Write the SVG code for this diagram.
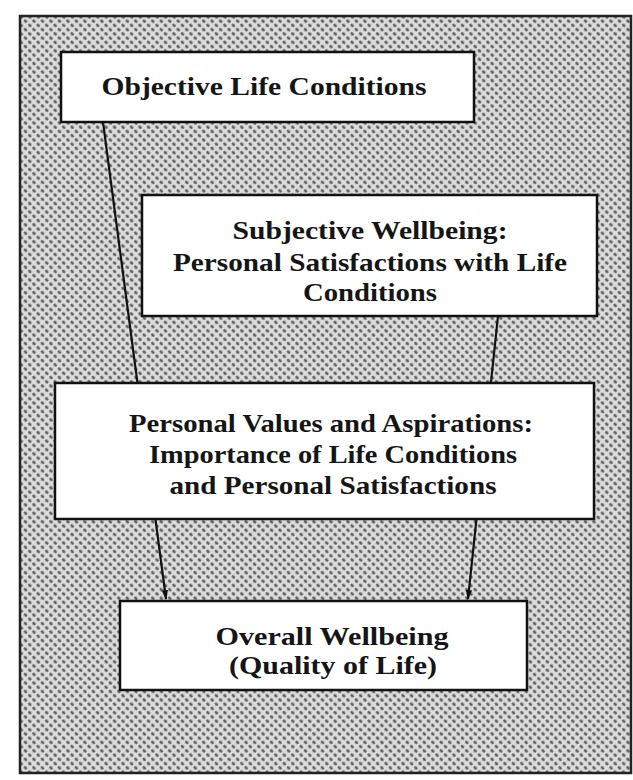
<svg xmlns="http://www.w3.org/2000/svg" width="633" height="780" viewBox="0 0 633 780">
<style>
.box{fill:#fff;stroke:#111;stroke-width:2.5}
.t{font-family:"Liberation Serif","Times New Roman",serif;font-weight:bold;font-size:25px;fill:#151515;text-anchor:middle}
.c{stroke:#111;stroke-width:2.2;fill:none}
</style>
<defs>
<pattern id="ht" width="6" height="6" patternUnits="userSpaceOnUse" patternTransform="rotate(45)">
<rect width="6" height="6" fill="#dcdcdc"/>
<ellipse cx="3" cy="3" rx="2" ry="1.4" fill="#5e5e5e"/>
</pattern>
<marker id="ah" markerWidth="10" markerHeight="16" refX="9" refY="5" orient="auto" markerUnits="userSpaceOnUse" viewBox="0 0 10 10">
<path d="M0,1.8 L10,5 L0,8.2 Z" fill="#111"/>
</marker>
</defs>
<rect x="0" y="0" width="633" height="780" fill="#fff"/>
<rect id="frame" x="20" y="16" width="611" height="757" fill="url(#ht)" stroke="#222" stroke-width="2.5"/>
<g id="connectors">
<line class="c" x1="103" y1="122" x2="166" y2="599" marker-end="url(#ah)"/>
<line class="c" x1="498" y1="316" x2="468" y2="599" marker-end="url(#ah)"/>
</g>
<g id="n1">
<rect class="box" x="61" y="52" width="413" height="70"/>
<text class="t" x="264" y="95" textLength="325" lengthAdjust="spacingAndGlyphs">Objective Life Conditions</text>
</g>
<g id="n2">
<rect class="box" x="142" y="195" width="455" height="121"/>
<text class="t" x="370" y="239" textLength="275" lengthAdjust="spacingAndGlyphs">Subjective Wellbeing:</text>
<text class="t" x="370" y="271" textLength="394" lengthAdjust="spacingAndGlyphs">Personal Satisfactions with Life</text>
<text class="t" x="370" y="301" textLength="134" lengthAdjust="spacingAndGlyphs">Conditions</text>
</g>
<g id="n3">
<rect class="box" x="55" y="383" width="539" height="136"/>
<text class="t" x="331" y="432" textLength="404" lengthAdjust="spacingAndGlyphs">Personal Values and Aspirations:</text>
<text class="t" x="333" y="463" textLength="368" lengthAdjust="spacingAndGlyphs">Importance of Life Conditions</text>
<text class="t" x="333" y="494" textLength="327" lengthAdjust="spacingAndGlyphs">and Personal Satisfactions</text>
</g>
<g id="n4">
<rect class="box" x="120" y="601" width="407" height="89"/>
<text class="t" x="332" y="645" textLength="233" lengthAdjust="spacingAndGlyphs">Overall Wellbeing</text>
<text class="t" x="333" y="674" textLength="208" lengthAdjust="spacingAndGlyphs">(Quality of Life)</text>
</g>
</svg>
